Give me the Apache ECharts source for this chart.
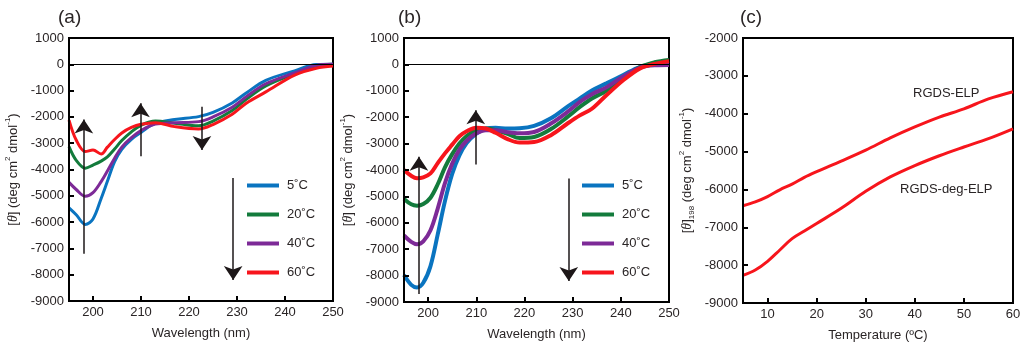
<!DOCTYPE html>
<html>
<head>
<meta charset="utf-8">
<script src="https://cdn.jsdelivr.net/npm/echarts@6/dist/echarts.min.js"></script>
<style>
html,body{margin:0;padding:0;background:#fff;}
#chart{width:1024px;height:349px;}
</style>
</head>
<body>
<div id="chart"></div>
<script>
// ---------- DATA ----------
const tempNames = ['5˚C', '20˚C', '40˚C', '60˚C'];
const wlTicks = [200, 210, 220, 230, 240, 250];
const tempTicks = [10, 20, 30, 40, 50, 60];

// Panel (a)
const wlA = [195, 196.5, 198.4, 200, 201.7, 203, 204.5, 206, 208, 210, 213, 217, 222, 225, 229, 232, 236, 242, 246.5, 250];
const a5  = [-5460, -5720, -6090, -5880, -5100, -4450, -3700, -3230, -2850, -2590, -2240, -2100, -1990, -1830, -1470, -1080, -610, -250, -10, 0];
const a20 = [-3130, -3650, -3950, -3830, -3680, -3520, -3220, -2900, -2570, -2320, -2160, -2240, -2340, -2160, -1760, -1320, -820, -360, -60, 0];
const a40 = [-4490, -4760, -5020, -4880, -4460, -4060, -3570, -3150, -2790, -2520, -2270, -2220, -2180, -2000, -1630, -1220, -740, -330, -40, 0];
const a60 = [-2120, -2880, -3320, -3260, -3410, -3150, -2860, -2610, -2400, -2280, -2220, -2370, -2460, -2290, -1900, -1470, -1050, -410, -150, -65];
// arrows: [wavelength, from, to]
const arrowsA = [[198.1, -7200, -2100], [209.9, -3500, -1480], [222.7, -1610, -3260], [229.2, -4320, -8200]];

// Panel (b)
const wlB = [195, 196.5, 197.7, 199, 200.5, 202, 203.5, 205, 206.5, 208, 210, 212, 214, 216.5, 219, 222, 225.5, 229, 231.5, 234, 237, 240.5, 244, 247, 250];
const b5  = [-7980, -8350, -8450, -8270, -7640, -6440, -5180, -4150, -3450, -2980, -2620, -2430, -2400, -2430, -2420, -2330, -2040, -1590, -1290, -990, -720, -400, -90, 0, 50];
const b20 = [-5100, -5300, -5350, -5290, -5050, -4540, -3900, -3400, -3000, -2710, -2480, -2430, -2490, -2630, -2790, -2750, -2450, -1980, -1610, -1290, -1000, -520, -100, 80, 170];
const b40 = [-6480, -6720, -6810, -6700, -6280, -5460, -4500, -3760, -3230, -2890, -2610, -2490, -2490, -2570, -2610, -2560, -2240, -1790, -1420, -1130, -870, -460, -120, -30, -20];
const b60 = [-4000, -4220, -4310, -4280, -4130, -3740, -3370, -3040, -2720, -2530, -2400, -2430, -2590, -2830, -2960, -2940, -2680, -2230, -1930, -1680, -1170, -600, -150, 20, 125];
const arrowsB = [[198.1, -8700, -3500], [209.9, -3790, -1740], [229.2, -4320, -8200]];

// Panel (c)
const tempC = [5, 7.5, 10, 12.5, 15, 17.5, 20, 25, 30, 35, 40, 45, 50, 55, 60];
const elpC    = [-6430, -6330, -6190, -6010, -5860, -5680, -5530, -5250, -4960, -4640, -4350, -4090, -3870, -3610, -3420];
const degElpC = [-8270, -8130, -7900, -7600, -7300, -7100, -6900, -6500, -6050, -5670, -5370, -5110, -4880, -4660, -4400];
const labelsC = [['RGDS-ELP', 46.4, -3460], ['RGDS-deg-ELP', 46.4, -5990]];

// ---------- STYLE ----------
const FONT = "'Liberation Sans', Arial, sans-serif";
const TXT = '#2a2526';
const colors = ['#0a74c0', '#137b3c', '#7d2a97', '#f7151c'];
const zip = (xs, ys) => xs.map((x, i) => [x, ys[i]]);

function xAxisDef(grid, min, max, ticks, name) {
  return {
    gridIndex: grid, type: 'value', min: min, max: max, z: 10,
    axisLine: { show: true, onZero: false, lineStyle: { color: '#000', width: 2 } },
    axisTick: { show: true, inside: true, length: 5, customValues: ticks, lineStyle: { color: '#000', width: 2 } },
    axisLabel: { customValues: ticks, color: TXT, fontSize: 13, fontFamily: FONT, margin: 5 },
    splitLine: { show: false },
    name: name, nameLocation: 'middle', nameGap: 26,
    nameTextStyle: { color: TXT, fontSize: 13, fontFamily: FONT, verticalAlign: 'top' }
  };
}
function yAxisDef(grid, min, max, nameRich) {
  return {
    gridIndex: grid, type: 'value', min: min, max: max, interval: 1000, z: 10,
    axisLine: { show: true, onZero: false, lineStyle: { color: '#000', width: 2 } },
    axisTick: { show: true, inside: true, length: 5, lineStyle: { color: '#000', width: 2 } },
    axisLabel: { color: TXT, fontSize: 13, fontFamily: FONT, margin: 5, formatter: v => String(v) },
    splitLine: { show: false },
    name: nameRich, nameLocation: 'middle', nameGap: 47,
    nameTextStyle: {
      color: TXT, fontSize: 13, fontFamily: FONT, lineHeight: 18,
      rich: {
        i: { fontStyle: 'italic', fontFamily: "'Liberation Serif', serif", fontSize: 14, color: TXT, lineHeight: 18 },
        sup: { fontSize: 8, verticalAlign: 'top', lineHeight: 10, color: TXT, fontFamily: FONT },
        sub: { fontSize: 8, verticalAlign: 'bottom', lineHeight: 10, color: TXT, fontFamily: FONT }
      }
    }
  };
}
const yNameAB = '[{i|θ}] (deg cm{sup|2} dmol{sup|-1})';
const yNameC = '[{i|θ}]{sub|198} (deg cm{sup|2} dmol{sup|-1})';

function curve(name, xs, ys, idx, color, width) {
  return {
    name: name, type: 'line', xAxisIndex: idx, yAxisIndex: idx,
    data: zip(xs, ys), smooth: 0.35, symbol: 'none', showSymbol: false,
    lineStyle: { color: color, width: width }, itemStyle: { color: color },
    z: 3
  };
}
function arrowSeries(idx, arrows) {
  return {
    type: 'line', xAxisIndex: idx, yAxisIndex: idx, data: [], silent: true,
    markLine: {
      silent: true, animation: false,
      symbol: ['none', 'arrow'], symbolSize: 14,
      lineStyle: { color: '#1d1718', width: 1.5, type: 'solid' },
      label: { show: false },
      data: arrows.map(a => [{ coord: [a[0], a[1]] }, { coord: [a[0], a[2]] }])
    },
    z: 5
  };
}
function zeroLine(idx) {
  return {
    type: 'line', xAxisIndex: idx, yAxisIndex: idx, data: [], silent: true,
    markLine: {
      silent: true, animation: false, symbol: 'none',
      lineStyle: { color: '#000', width: 1, type: 'solid' },
      label: { show: false },
      data: [{ yAxis: 0 }]
    },
    z: 2
  };
}
function legendDef(left) {
  return {
    data: tempNames, orient: 'vertical', left: left, top: 179, padding: 0,
    icon: 'rect', itemWidth: 32, itemHeight: 4, itemGap: 16,
    selectedMode: false,
    textStyle: { color: TXT, fontSize: 13, fontFamily: FONT, padding: [0, 0, 0, 3] }
  };
}

const series = [
  zeroLine(0), zeroLine(1),
  curve(tempNames[0], wlA, a5, 0, colors[0], 3),
  curve(tempNames[1], wlA, a20, 0, colors[1], 3),
  curve(tempNames[2], wlA, a40, 0, colors[2], 3),
  curve(tempNames[3], wlA, a60, 0, colors[3], 3),
  curve(tempNames[0], wlB, b5, 1, colors[0], 4),
  curve(tempNames[1], wlB, b20, 1, colors[1], 4),
  curve(tempNames[2], wlB, b40, 1, colors[2], 4),
  curve(tempNames[3], wlB, b60, 1, colors[3], 4),
  arrowSeries(0, arrowsA), arrowSeries(1, arrowsB),
  curve('RGDS-ELP', tempC, elpC, 2, colors[3], 3),
  curve('RGDS-deg-ELP', tempC, degElpC, 2, colors[3], 3),
  {
    type: 'line', xAxisIndex: 2, yAxisIndex: 2, data: [], silent: true,
    markPoint: {
      silent: true, animation: false, symbol: 'circle', symbolSize: 1,
      itemStyle: { color: 'rgba(0,0,0,0)' },
      label: { show: true, position: 'inside', formatter: p => p.name, color: TXT, fontSize: 13, fontFamily: FONT },
      data: labelsC.map(l => ({ name: l[0], coord: [l[1], l[2]] }))
    }
  }
];

const option = {
  animation: false,
  backgroundColor: '#fff',
  title: [
    { text: '(a)', left: 53, top: 3, textStyle: { fontSize: 19, fontWeight: 'normal', color: TXT, fontFamily: FONT } },
    { text: '(b)', left: 393, top: 3, textStyle: { fontSize: 19, fontWeight: 'normal', color: TXT, fontFamily: FONT } },
    { text: '(c)', left: 735, top: 3, textStyle: { fontSize: 19, fontWeight: 'normal', color: TXT, fontFamily: FONT } }
  ],
  grid: [
    { left: 69, top: 38, width: 264, height: 263, show: true, borderColor: '#000', borderWidth: 2, backgroundColor: 'transparent' },
    { left: 404, top: 38, width: 265, height: 264, show: true, borderColor: '#000', borderWidth: 2, backgroundColor: 'transparent' },
    { left: 743, top: 38, width: 270, height: 265, show: true, borderColor: '#000', borderWidth: 2, backgroundColor: 'transparent' }
  ],
  legend: [legendDef(247), legendDef(582)],
  xAxis: [
    xAxisDef(0, 195, 250, wlTicks, 'Wavelength (nm)'),
    xAxisDef(1, 195, 250, wlTicks, 'Wavelength (nm)'),
    xAxisDef(2, 5, 60, tempTicks, 'Temperature (ºC)')
  ],
  yAxis: [
    yAxisDef(0, -9000, 1000, yNameAB),
    yAxisDef(1, -9000, 1000, yNameAB),
    yAxisDef(2, -9000, -2000, yNameC)
  ],
  series: series
};

const chart = echarts.init(document.getElementById('chart'), null, { renderer: 'canvas' });
chart.setOption(option);
</script>
</body>
</html>
